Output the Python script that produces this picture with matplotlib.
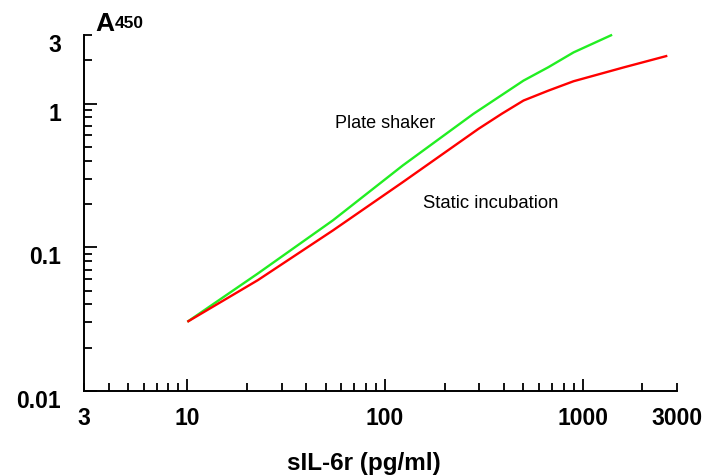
import matplotlib
matplotlib.use("Agg")
import matplotlib.pyplot as plt
from matplotlib.ticker import FixedLocator, FuncFormatter
from matplotlib.transforms import ScaledTranslation

plt.rcParams['font.family'] = ['Liberation Sans', 'DejaVu Sans']

# Data
shaker_x = [10.0, 22.7, 54.5, 123, 280, 502, 670, 899, 1409]
shaker_y = [0.0303, 0.0656, 0.154, 0.371, 0.848, 1.445, 1.79, 2.27, 3.01]
static_x = [10.0, 22.7, 54.5, 123, 297, 390, 502, 670, 899, 1614, 2680]
static_y = [0.0303, 0.059, 0.131, 0.284, 0.667, 0.85, 1.05, 1.23, 1.43, 1.786, 2.15]

x_major = [10, 100, 1000]
x_minor = [3, 4, 5, 6, 7, 8, 9, 20, 30, 40, 50, 60, 70, 80, 90,
           200, 300, 400, 500, 600, 700, 800, 900, 2000, 3000]
x_minor_labels = {3: "3", 3000: "3000"}
y_major = [0.01, 0.1, 1]
y_major_labels = ["0.01", "0.1", "1"]
y_minor = [0.02, 0.03, 0.04, 0.05, 0.06, 0.07, 0.08, 0.09,
           0.2, 0.3, 0.4, 0.5, 0.6, 0.7, 0.8, 0.9, 2, 3]
y_minor_labels = {3: "3"}

fig = plt.figure(figsize=(7.11, 4.76), dpi=100)
ax = fig.add_axes([84/711, 1-391/476, (677-84)/711, (391-35)/476])
ax.set_xscale('log')
ax.set_yscale('log')
ax.set_xlim(3, 3000)
ax.set_ylim(0.01, 3)

ax.plot(shaker_x, shaker_y, color='#22ee22', lw=1.7, solid_capstyle='butt',
        solid_joinstyle='round', clip_on=False)
ax.plot(static_x, static_y, color='#ff0000', lw=1.7, solid_capstyle='butt',
        solid_joinstyle='round', clip_on=False)

for s in ['top', 'right']:
    ax.spines[s].set_visible(False)
for s in ['left', 'bottom']:
    ax.spines[s].set_linewidth(1.4)

ax.xaxis.set_major_locator(FixedLocator(x_major))
ax.xaxis.set_major_formatter(FuncFormatter(lambda v, p: "%d" % round(v)))
ax.xaxis.set_minor_locator(FixedLocator(x_minor))
ax.xaxis.set_minor_formatter(FuncFormatter(lambda v, p: x_minor_labels.get(int(round(v)), "")))
ax.yaxis.set_major_locator(FixedLocator(y_major))
ax.set_yticklabels(y_major_labels)
ax.yaxis.set_minor_locator(FixedLocator(y_minor))
ax.yaxis.set_minor_formatter(FuncFormatter(
    lambda v, p: y_minor_labels.get(int(round(v)), "") if v >= 1 else ""))

ax.tick_params(which='major', direction='in', length=9, width=1.3, labelsize=16.5)
ax.tick_params(which='minor', direction='in', length=6, width=1.3, labelsize=16.5)
ax.tick_params(axis='x', which='both', pad=11.5)
ax.tick_params(axis='y', which='both', pad=16.5)
for lab in ax.get_xticklabels(which='both') + ax.get_yticklabels(which='both'):
    lab.set_fontweight('bold')
for lab in ax.get_yticklabels(which='both'):
    lab.set_transform(lab.get_transform() + ScaledTranslation(0, -8/100, fig.dpi_scale_trans))

fig.text(95/711, 1-31/476, "A", fontsize=19, fontweight='bold', ha='left', va='baseline')
fig.text(115/711, 1-28/476, "450", fontsize=12.5, fontweight='bold', ha='left', va='baseline')

fig.text(335/711, 1-128.5/476, "Plate shaker", fontsize=13, ha='left', va='baseline')
fig.text(423/711, 1-208.5/476, "Static incubation", fontsize=13.3, ha='left', va='baseline')

fig.text(364/711, 1-470/476, "sIL-6r (pg/ml)", fontsize=17.5, fontweight='bold',
         ha='center', va='baseline')

fig.savefig("out.png", dpi=100)
